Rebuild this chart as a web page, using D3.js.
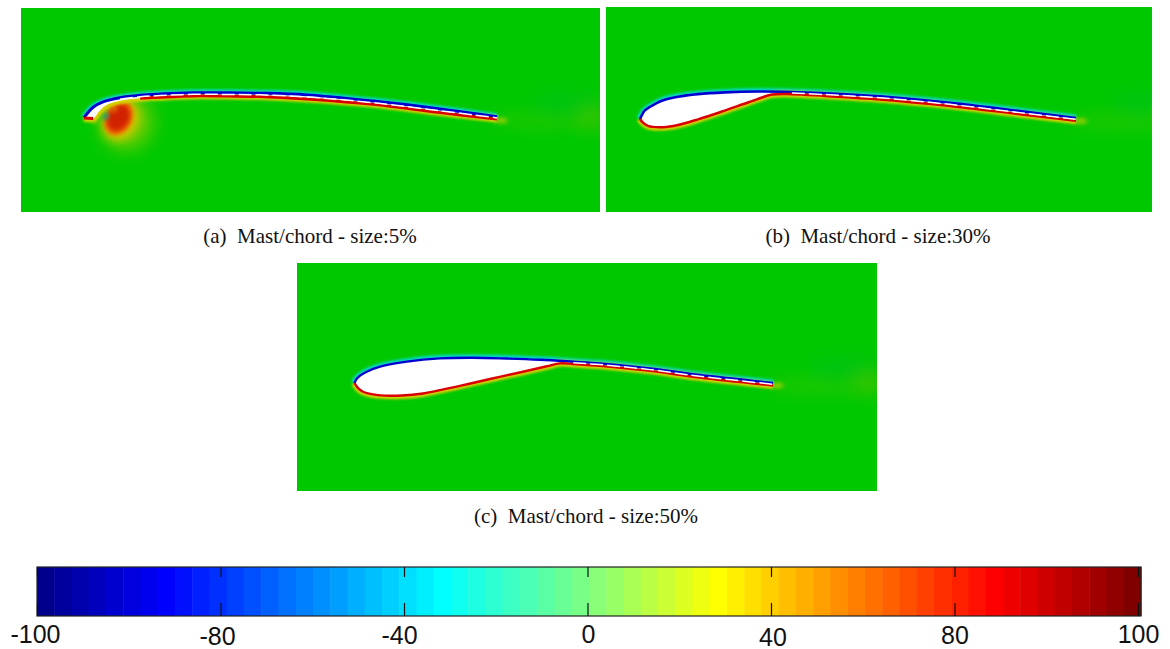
<!DOCTYPE html>
<html>
<head>
<meta charset="utf-8">
<script src="https://cdn.jsdelivr.net/npm/d3@7"></script>
<style>
	html, body { margin: 0; padding: 0; background: #fff; overflow: hidden; }
	.caption { font-family: "Liberation Serif", serif; font-size: 21px; text-anchor: middle; fill: #111; white-space: pre; }
	.cbar text { font-family: "Liberation Sans", sans-serif; font-size: 25px; fill: #111; }
</style>
</head>
<body>
<script>
// surfaces, in % of chord: x along the chord, y above the leading edge
var aUpperX = [0, 2.2, 4.6, 8.7, 13.6, 18.4, 26.4, 34.6, 42.6, 54, 70, 86.2, 100];
var aUpperY = [0.1, 2.6, 3.9, 4.9, 5.5, 5.8, 6.1, 6.1, 6, 5.6, 4.1, 2.2, 0.3];
var aLowerX = [0, 2.2, 3.9, 5.8, 8.7, 13.6, 18.4, 26.4, 34.6, 42.6, 54, 70, 86.2, 100];
var aLowerY = [0, -0.1, 1.9, 3.3, 4.2, 4.8, 5.05, 5.35, 5.3, 5.2, 4.6, 3.3, 1.3, -0.25];

var bUpperX = [-0.2, 0.2, 0.9, 2.1, 4.8, 8.5, 13.1, 19.3, 26.9, 34.7, 42.3, 54.9, 71, 87.1, 100];
var bUpperY = [-0.1, 0.8, 1.85, 2.7, 4.1, 5, 5.6, 6, 6.2, 6.1, 5.8, 5.1, 3.6, 1.7, 0.1];
var bLowerX = [-0.2, 0.2, 1.6, 5.1, 8.5, 13.1, 18.6, 23.2, 26.9, 30.1, 34.7, 42.3, 54.9, 71, 87.1, 100];
var bLowerY = [-0.1, -0.7, -1.7, -2, -1.5, -0.2, 1.6, 3.2, 4.5, 5.5, 5.6, 5.2, 4.4, 2.9, 1, -0.5];

var cUpperX = [-0.1, 0.2, 1.2, 2.8, 6, 12.4, 20.3, 28.2, 36.3, 44.3, 52.2, 58.6, 70.6, 82.5, 100];
var cUpperY = [0, 0.7, 1.75, 2.7, 3.9, 5.1, 5.9, 6.05, 5.85, 5.55, 5.1, 4.7, 3.5, 1.9, 0];
var cLowerX = [-0.1, 0.2, 0.8, 1.9, 5.5, 11.2, 16.3, 24.3, 32.3, 40.2, 45.9, 49, 52.2, 58.6, 70.6, 82.5, 100];
var cLowerY = [0, -0.5, -1.3, -2.1, -2.9, -3, -2.5, -0.85, 0.95, 2.7, 4, 4.7, 4.55, 4.1, 2.9, 1.3, -0.6];

// flow features behind the sail, same units
var wakeX = [112, 117, 123, 101];
var wakeY = [-0.6, 3.5, 0.3, -0.6];
var wakeRx = [13, 9, 4, 1.6];
var wakeRy = [1.4, 3, 3, 0.6];
var wakeCol = ['#58c800', '#00c028', '#50c400', '#b8d000'];
var wakeOpacity = [0.5, 0.45, 0.6, 0.9];

// separation bubble under the small mast of panel (a)
var bubbleX = [10.5, 8.8, 8.4, 8.35, 7.4, 5.2, 2.4];
var bubbleY = [-1.2, -0.4, 0, 0.1, 2.2, 0.4, -0.6];
var bubbleRx = [6, 4.2, 3.2, 2.5, 0.5, 0.6, 0.7];
var bubbleRy = [6.5, 5.2, 4.3, 3.3, 0.9, 1, 0.5];
var bubbleCol = ['#70cc00', '#d8c800', '#f06000', '#d02000', '#e08000', '#00a880', '#e8d000'];

// colour bar
var cbarTicks = ['-100', '-80', '-40', '0', '40', '80', '100'];
var cbarLevels = d3.range(64);
var jetIndex = [0, 7, 23, 31.5, 39, 55, 63];
var jetColor = ['#00008c', '#0000ff', '#00ffff', '#80ff80', '#ffff00', '#ff0000', '#800000'];

var captions = ['(a)  Mast/chord - size:5%', '(b)  Mast/chord - size:30%', '(c)  Mast/chord - size:50%'];

var width = 1170;
var height = 649;

var svg = d3.select('body').append('svg')
	.attr('width', width)
	.attr('height', height)
	.style('display', 'block');

var defs = svg.append('defs');
[['b1', 1.2], ['b2', 2.2], ['b5', 5], ['b9', 9]].forEach(function(f) {
	defs.append('filter')
		.attr('id', f[0])
		.attr('x', '-100%').attr('y', '-100%')
		.attr('width', '300%').attr('height', '300%')
		.append('feGaussianBlur')
		.attr('stdDeviation', f[1]);
});

var panels = [
	{ id: 'a', x: 21, y: 8, w: 579, h: 204, le: 84, base: 118, chord: 413, ux: aUpperX, uy: aUpperY, lx: aLowerX, ly: aLowerY, dashFrom: 8.7, capX: 310, capY: 243, lw: 3 , tip: true },
	{ id: 'b', x: 606, y: 7, w: 546, h: 205, le: 641, base: 118.5, chord: 435, ux: bUpperX, uy: bUpperY, lx: bLowerX, ly: bLowerY, dashFrom: 34.7, capX: 878, capY: 243, lw: 2.6 },
	{ id: 'c', x: 297, y: 263, w: 580, h: 228, le: 355, base: 383, chord: 418, ux: cUpperX, uy: cUpperY, lx: cLowerX, ly: cLowerY, dashFrom: 52.2, capX: 586, capY: 523, lw: 2.4 }
];

panels.forEach(function(p, i) {
	var xScale = d3.scaleLinear().domain([0, 100]).range([p.le, p.le + p.chord]);
	var yScale = d3.scaleLinear().domain([0, 100]).range([p.base, p.base - p.chord]);
	var rScale = d3.scaleLinear().domain([0, 100]).range([0, p.chord]);

	var line = d3.line()
		.x(function(d) { return xScale(d[0]); })
		.y(function(d) { return yScale(d[1]); })
		.curve(d3.curveCatmullRom.alpha(0.5));

	var upper = d3.zip(p.ux, p.uy);
	var lower = d3.zip(p.lx, p.ly);

	defs.append('clipPath').attr('id', 'clip-' + p.id)
		.append('rect')
		.attr('x', p.x).attr('y', p.y)
		.attr('width', p.w).attr('height', p.h);

	var g = svg.append('g').attr('clip-path', 'url(#clip-' + p.id + ')');

	g.append('rect')
		.attr('x', p.x).attr('y', p.y)
		.attr('width', p.w).attr('height', p.h)
		.attr('fill', '#00c800');

	// wake
	g.selectAll('.wake')
		.data(d3.range(wakeX.length))
		.join('ellipse')
		.attr('class', 'wake')
		.attr('cx', function(k) { return xScale(wakeX[k]); })
		.attr('cy', function(k) { return yScale(wakeY[k]); })
		.attr('rx', function(k) { return rScale(wakeRx[k]); })
		.attr('ry', function(k) { return rScale(wakeRy[k]); })
		.attr('fill', function(k) { return wakeCol[k]; })
		.attr('opacity', function(k) { return wakeOpacity[k]; })
		.attr('filter', function(k) { return k == 3 ? 'url(#b2)' : 'url(#b9)'; });

	// separation bubble only on the thin mast, and it stays under the sail
	if (p.tip) {
		defs.append('clipPath').attr('id', 'under-' + p.id)
			.append('path')
			.attr('d', line(upper) + 'V' + (p.y + p.h) + 'H' + p.le + 'Z');

		g.append('g')
			.attr('clip-path', 'url(#under-' + p.id + ')')
			.selectAll('.bubble')
			.data(d3.range(bubbleX.length))
			.join('ellipse')
			.attr('class', 'bubble')
			.attr('transform', function(k) {
				return 'rotate(28 ' + xScale(bubbleX[k]) + ' ' + yScale(bubbleY[k]) + ')';
			})
			.attr('cx', function(k) { return xScale(bubbleX[k]); })
			.attr('cy', function(k) { return yScale(bubbleY[k]); })
			.attr('rx', function(k) { return rScale(bubbleRx[k]); })
			.attr('ry', function(k) { return rScale(bubbleRy[k]); })
			.attr('fill', function(k) { return bubbleCol[k]; })
			.attr('filter', function(k) {
				if (k == 0) return 'url(#b9)';
				if (k == 1) return 'url(#b5)';
				return 'url(#b2)';
			});
	}

	// soft halos either side of the surface
	g.append('path')
		.attr('d', line(upper))
		.attr('fill', 'none')
		.attr('stroke', '#00d8c0')
		.attr('stroke-width', 7)
		.attr('filter', 'url(#b1)');
	g.append('path')
		.attr('d', line(lower))
		.attr('fill', 'none')
		.attr('stroke', '#d8d000')
		.attr('stroke-width', 7)
		.attr('filter', 'url(#b1)');

	// white inside of the mast
	g.append('path')
		.attr('d', line(upper) + 'L' + line(lower.slice().reverse()).slice(1) + 'Z')
		.attr('fill', '#fff');

	g.append('path')
		.attr('d', line(upper))
		.attr('fill', 'none')
		.attr('stroke', '#0000d0')
		.attr('stroke-width', p.lw);

	// red side, the thin mast has no red on its inner wedge
	var reds = p.tip ? [lower.slice(0, 2), lower.slice(5)] : [lower];
	reds.forEach(function(part) {
		g.append('path')
			.attr('d', line(part))
			.attr('fill', 'none')
			.attr('stroke', '#d80000')
			.attr('stroke-width', p.lw);
	});

	// white dashes left between blue and red along the sail
	var mid = upper
		.filter(function(d) { return d[0] >= p.dashFrom; })
		.map(function(d) {
			var j = p.lx.indexOf(d[0]);
			return [d[0], (d[1] + p.ly[j]) / 2];
		});
	g.append('path')
		.attr('d', line(mid))
		.attr('fill', 'none')
		.attr('stroke', '#fff')
		.attr('stroke-width', 1.5)
		.attr('stroke-dasharray', '13 4');

	svg.append('text')
		.attr('class', 'caption')
		.attr('x', p.capX)
		.attr('y', p.capY)
		.text(captions[i]);
});

// colour bar
var barTop = 567;
var barBottom = 616;
var jet = d3.scaleLinear().domain(jetIndex).range(jetColor);
var bandScale = d3.scaleBand().domain(cbarLevels).range([37, 1141]);
var tickScale = d3.scalePoint().domain(cbarTicks).range([37, 1138]);

var cbar = svg.append('g').attr('class', 'cbar');

cbar.selectAll('.level')
	.data(cbarLevels)
	.join('rect')
	.attr('class', 'level')
	.attr('x', function(d) { return bandScale(d); })
	.attr('y', barTop)
	.attr('width', bandScale.bandwidth() + 0.5)
	.attr('height', barBottom - barTop)
	.attr('fill', function(d) { return jet(d); });

cbar.append('rect')
	.attr('x', 37).attr('y', barTop)
	.attr('width', 1104).attr('height', barBottom - barTop)
	.attr('fill', 'none')
	.attr('stroke', '#222')
	.attr('stroke-width', 1.2);

var axisBottom = cbar.append('g')
	.attr('transform', 'translate(0,' + barBottom + ')')
	.call(d3.axisBottom(tickScale).tickSize(-13).tickPadding(0));
var axisTop = cbar.append('g')
	.attr('transform', 'translate(0,' + barTop + ')')
	.call(d3.axisTop(tickScale).tickSize(-10).tickFormat(''));

axisBottom.select('.domain').remove();
axisTop.select('.domain').remove();
cbar.selectAll('.tick line').attr('stroke', '#111').attr('stroke-width', 1.2);

// the labels sit a little unevenly in the picture
var labelDx = [-2, -3.5, -5, 0.5, 1.5, 0, 0];
var labelBase = [27, 29, 27.5, 27, 29.5, 28, 27];
axisBottom.selectAll('.tick text')
	.attr('dy', null)
	.attr('dx', function(d, i) { return labelDx[i]; })
	.attr('y', function(d, i) { return labelBase[i]; })
	.style('font-family', '"Liberation Sans", sans-serif')
	.style('font-size', '25px');
</script>
</body>
</html>
